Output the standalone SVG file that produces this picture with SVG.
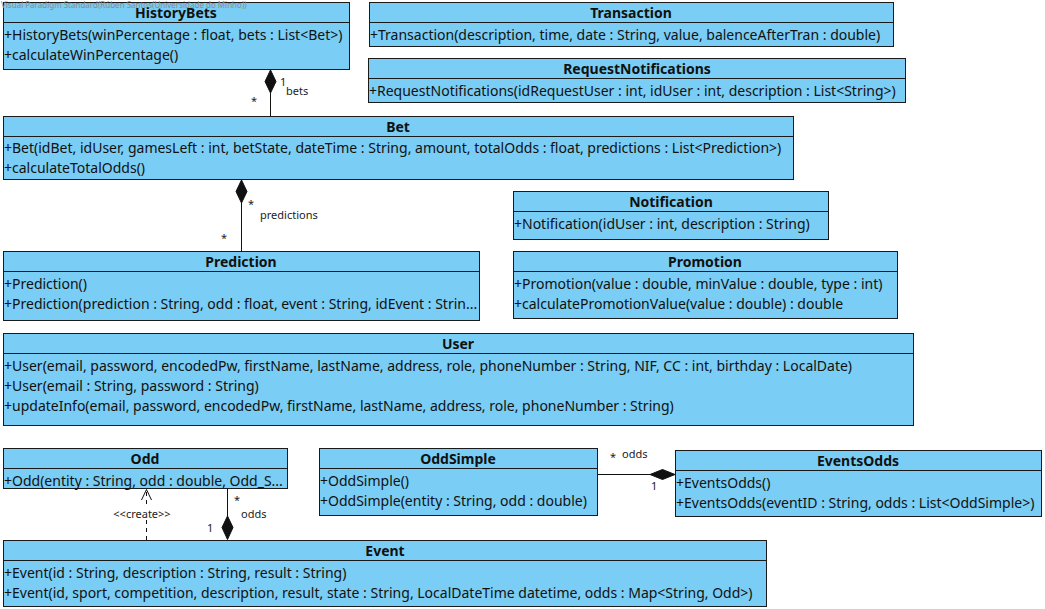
<svg xmlns="http://www.w3.org/2000/svg" width="1045" height="609" viewBox="0 0 1045 609">
<style>
.box{fill:#7acdf4;stroke:#1a1a1a;stroke-width:1}
.sep{stroke:#1a1a1a;stroke-width:1}
.t{font-family:"Noto Sans","Open Sans","DejaVu Sans",sans-serif;font-size:14px;font-weight:bold;fill:#111;text-anchor:middle}
.m{font-family:"Noto Sans","Open Sans","DejaVu Sans",sans-serif;font-size:14px;fill:#111}
.l{font-family:"Noto Sans","Open Sans","DejaVu Sans",sans-serif;font-size:11px;fill:#222}
.ln{stroke:#111;stroke-width:1;fill:none}
.dia{fill:#111;stroke:#111;stroke-width:1}
.wm{font-family:"Noto Sans","DejaVu Sans",sans-serif;font-size:8px;fill:#8a8a8a}
</style>
<rect width="1045" height="609" fill="#ffffff"/>
<g id="HistoryBets">
<rect class="box" x="3.5" y="2.5" width="346" height="67"/>
<line class="sep" x1="3.5" y1="22.5" x2="349.5" y2="22.5"/>
<text class="t" x="176" y="18">HistoryBets</text>
<text class="m" x="4" y="40">+HistoryBets(winPercentage : float, bets : List&lt;Bet&gt;)</text>
<text class="m" x="4" y="60">+calculateWinPercentage()</text>
</g>
<g id="Transaction">
<rect class="box" x="369.5" y="2.5" width="524" height="44"/>
<line class="sep" x1="369.5" y1="22.5" x2="893.5" y2="22.5"/>
<text class="t" x="631" y="18">Transaction</text>
<text class="m" x="370" y="40">+Transaction(description, time, date : String, value, balenceAfterTran : double)</text>
</g>
<g id="RequestNotifications">
<rect class="box" x="368.5" y="58.5" width="537" height="44"/>
<line class="sep" x1="368.5" y1="78.5" x2="905.5" y2="78.5"/>
<text class="t" x="637" y="74">RequestNotifications</text>
<text class="m" x="369" y="96">+RequestNotifications(idRequestUser : int, idUser : int, description : List&lt;String&gt;)</text>
</g>
<g id="Bet">
<rect class="box" x="3.5" y="116.5" width="790" height="63"/>
<line class="sep" x1="3.5" y1="136.5" x2="793.5" y2="136.5"/>
<text class="t" x="398" y="132">Bet</text>
<text class="m" x="4" y="153">+Bet(idBet, idUser, gamesLeft : int, betState, dateTime : String, amount, totalOdds : float, predictions : List&lt;Prediction&gt;)</text>
<text class="m" x="4" y="173">+calculateTotalOdds()</text>
</g>
<g id="Notification">
<rect class="box" x="513.5" y="191.5" width="315" height="48"/>
<line class="sep" x1="513.5" y1="211.5" x2="828.5" y2="211.5"/>
<text class="t" x="671" y="207">Notification</text>
<text class="m" x="514" y="229">+Notification(idUser : int, description : String)</text>
</g>
<g id="Prediction">
<rect class="box" x="3.5" y="251.5" width="476" height="69"/>
<line class="sep" x1="3.5" y1="271.5" x2="479.5" y2="271.5"/>
<text class="t" x="241" y="267">Prediction</text>
<text class="m" x="4" y="289">+Prediction()</text>
<text class="m" x="4" y="309">+Prediction(prediction : String, odd : float, event : String, idEvent : Strin...</text>
</g>
<g id="Promotion">
<rect class="box" x="513.5" y="251.5" width="384" height="67"/>
<line class="sep" x1="513.5" y1="271.5" x2="897.5" y2="271.5"/>
<text class="t" x="705" y="267">Promotion</text>
<text class="m" x="514" y="289">+Promotion(value : double, minValue : double, type : int)</text>
<text class="m" x="514" y="309">+calculatePromotionValue(value : double) : double</text>
</g>
<g id="User">
<rect class="box" x="3.5" y="333.5" width="910" height="92"/>
<line class="sep" x1="3.5" y1="353.5" x2="913.5" y2="353.5"/>
<text class="t" x="458" y="349">User</text>
<text class="m" x="4" y="371">+User(email, password, encodedPw, firstName, lastName, address, role, phoneNumber : String, NIF, CC : int, birthday : LocalDate)</text>
<text class="m" x="4" y="391">+User(email : String, password : String)</text>
<text class="m" x="4" y="411">+updateInfo(email, password, encodedPw, firstName, lastName, address, role, phoneNumber : String)</text>
</g>
<g id="Odd">
<rect class="box" x="3.5" y="448.5" width="284" height="40"/>
<line class="sep" x1="3.5" y1="468.5" x2="287.5" y2="468.5"/>
<text class="t" x="145" y="464">Odd</text>
<text class="m" x="4" y="486">+Odd(entity : String, odd : double, Odd_S...</text>
</g>
<g id="OddSimple">
<rect class="box" x="319.5" y="448.5" width="278" height="67"/>
<line class="sep" x1="319.5" y1="468.5" x2="597.5" y2="468.5"/>
<text class="t" x="458" y="464">OddSimple</text>
<text class="m" x="320" y="486">+OddSimple()</text>
<text class="m" x="320" y="506">+OddSimple(entity : String, odd : double)</text>
</g>
<g id="EventsOdds">
<rect class="box" x="675.5" y="450.5" width="366" height="66"/>
<line class="sep" x1="675.5" y1="470.5" x2="1041.5" y2="470.5"/>
<text class="t" x="858" y="466">EventsOdds</text>
<text class="m" x="676" y="488">+EventsOdds()</text>
<text class="m" x="676" y="508">+EventsOdds(eventID : String, odds : List&lt;OddSimple&gt;)</text>
</g>
<g id="Event">
<rect class="box" x="3.5" y="540.5" width="763" height="66"/>
<line class="sep" x1="3.5" y1="560.5" x2="766.5" y2="560.5"/>
<text class="t" x="385" y="556">Event</text>
<text class="m" x="4" y="578">+Event(id : String, description : String, result : String)</text>
<text class="m" x="4" y="598">+Event(id, sport, competition, description, result, state : String, LocalDateTime datetime, odds : Map&lt;String, Odd&gt;)</text>
</g>
<g id="connectors">
<line class="ln" x1="270.5" y1="93" x2="270.5" y2="116"/>
<polygon class="dia" points="270.5,70 276,81.5 270.5,93 265,81.5"/>
<text class="l" x="280" y="86">1</text>
<text class="l" x="286" y="95">bets</text>
<text class="l" x="251" y="105">*</text>
<line class="ln" x1="241.5" y1="203" x2="241.5" y2="251"/>
<polygon class="dia" points="241.5,180 247,191.5 241.5,203 236,191.5"/>
<text class="l" x="248" y="208">*</text>
<text class="l" x="260" y="219">predictions</text>
<text class="l" x="221" y="242">*</text>
<line class="ln" x1="227.5" y1="489" x2="227.5" y2="516"/>
<polygon class="dia" points="227.5,516 233,527.5 227.5,539.5 222,527.5"/>
<text class="l" x="234" y="504">*</text>
<text class="l" x="241" y="518">odds</text>
<text class="l" x="207" y="532">1</text>
<line class="ln" x1="146.5" y1="540" x2="146.5" y2="520" stroke-dasharray="4,4"/>
<line class="ln" x1="146.5" y1="504" x2="146.5" y2="490" stroke-dasharray="4,4"/>
<polyline class="ln" points="141.5,500 146.5,489.5 151.5,500"/>
<text class="l" x="142" y="518" text-anchor="middle" font-size="9">&lt;&lt;create&gt;&gt;</text>
<line class="ln" x1="597.5" y1="474.5" x2="650" y2="474.5"/>
<polygon class="dia" points="650,474.5 662.5,469.5 675,474.5 662.5,479.5"/>
<text class="l" x="610" y="461">*</text>
<text class="l" x="622" y="458">odds</text>
<text class="l" x="651" y="490">1</text>
</g>
<text class="wm" x="1" y="8">Visual Paradigm Standard(Rúben Santos(Universidade do Minho))</text>
</svg>
